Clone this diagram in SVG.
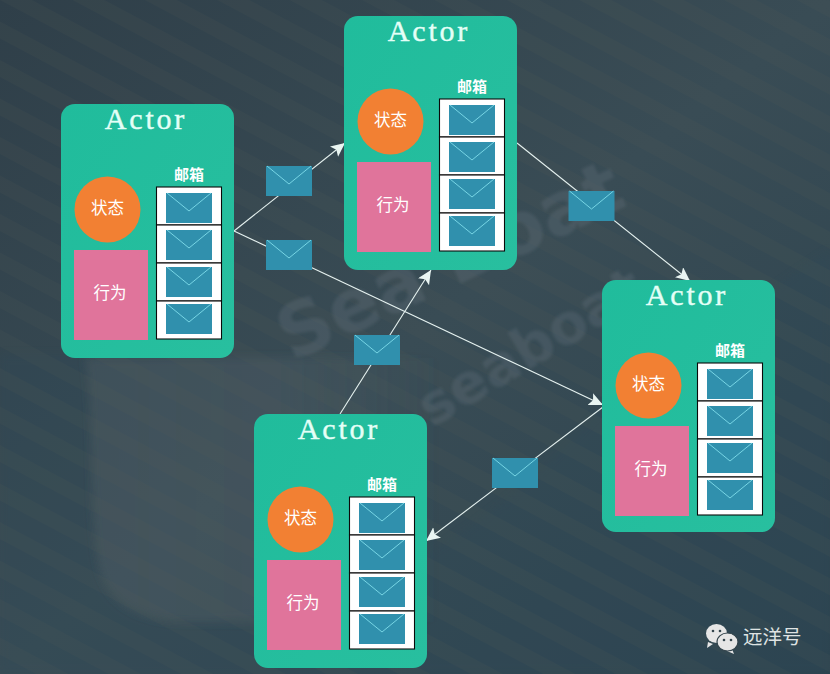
<svg xmlns="http://www.w3.org/2000/svg" width="830" height="674" viewBox="0 0 830 674">
<style>
.card{fill:url(#cardGrad)}
.state{fill:#f28033}
.behav{fill:#e0749b}
.box{fill:#fff;stroke:#0a0a0a;stroke-width:1.1}
.title{font-family:"Liberation Serif",serif;font-size:30px;letter-spacing:2.800px;fill:#e4fff7;stroke:#e4fff7;stroke-width:.4px;text-anchor:middle}
.cjk{font-family:"Noto Sans CJK SC",sans-serif;font-size:16.500px;fill:#fff;text-anchor:middle}
.mail{font-family:"Noto Sans CJK SC",sans-serif;font-size:15px;font-weight:700;fill:#fff;text-anchor:middle}
.link{fill:none;stroke:#e6f2f0;stroke-width:1.1}
.wm{font-family:"DejaVu Sans",sans-serif;font-weight:700;fill:#66767f;opacity:.3}
</style>
<defs>
<linearGradient id="bg" x1="0" y1="0" x2="1" y2="1">
<stop offset="0" stop-color="#2f3f49"/><stop offset=".5" stop-color="#394c55"/><stop offset="1" stop-color="#2c434f"/>
</linearGradient>
<linearGradient id="cardGrad" x1="0" y1="0" x2="1" y2="1">
<stop offset="0" stop-color="#20bc9c"/><stop offset="1" stop-color="#28bf9f"/>
</linearGradient>
<linearGradient id="blobFade" x1="0" y1="0" x2="1" y2="0">
<stop offset="0" stop-color="#4d5d66" stop-opacity=".45"/><stop offset=".55" stop-color="#4d5d66" stop-opacity=".4"/><stop offset="1" stop-color="#4d5d66" stop-opacity="0"/>
</linearGradient>
<filter id="soft" x="-10%" y="-10%" width="120%" height="120%"><feGaussianBlur stdDeviation="4"/></filter>
<filter id="softer" x="-10%" y="-10%" width="120%" height="120%"><feGaussianBlur stdDeviation="1.500"/></filter>
<pattern id="stripes" width="34" height="34" patternUnits="userSpaceOnUse" patternTransform="rotate(-62)">
<rect width="15" height="34" fill="#525a56" opacity=".13"/>
</pattern>
<marker id="arrow" markerUnits="userSpaceOnUse" markerWidth="16" markerHeight="14" refX="14" refY="6.500" orient="auto">
<path d="M0 0L14 6.500L0 13L3 6.500Z" fill="#e9f5f2"/>
</marker>
<g id="env">
<rect width="46" height="30" fill="#3090ad"/>
<path d="M1 0L23 18L45 0" fill="none" stroke="#7fdcea" stroke-width=".9"/>
</g>
</defs>
<rect id="background" width="830" height="674" fill="url(#bg)"/>
<path d="M0 355H85C95 400 88 520 100 570C110 610 150 622 190 622C320 622 470 560 610 400L830 250V674H0Z" fill="#2f4a58" opacity=".3" filter="url(#soft)"/>
<path d="M85 358H440V622H190C150 622 110 610 100 570C88 520 95 400 85 358Z" fill="url(#blobFade)" filter="url(#soft)"/>
<rect width="830" height="674" fill="url(#stripes)"/>
<g filter="url(#softer)">
<text class="wm" font-size="74" transform="translate(292 362) rotate(-25)">Sea Boat</text>
<text class="wm" font-size="56" transform="translate(432 428) rotate(-31)">seaboat</text>
</g>

<g id="connectors">
<path class="link" d="M234 231L345 143" marker-end="url(#arrow)"/>
<path class="link" d="M234 231L603 405" marker-end="url(#arrow)"/>
<path class="link" d="M517 143L690 281" marker-end="url(#arrow)"/>
<path class="link" d="M340 414L431 270" marker-end="url(#arrow)"/>
<path class="link" d="M603 407L426 541" marker-end="url(#arrow)"/>
<use href="#env" x="266" y="166"/>
<use href="#env" x="266" y="240"/>
<use href="#env" x="568.500" y="191"/>
<use href="#env" x="354" y="335"/>
<use href="#env" x="492" y="458"/>
</g>

<g id="actor1">
<rect class="card" x="61" y="104" width="173" height="254" rx="14"/>
<text class="title" x="146" y="129">Actor</text>
<circle class="state" cx="107.500" cy="209.500" r="33"/>
<text class="cjk" x="107.500" y="213.500">状态</text>
<rect class="behav" x="74" y="250" width="74" height="90"/>
<text class="cjk" x="110" y="299">行为</text>
<text class="mail" x="189" y="180">邮箱</text>
<rect class="box" x="156.500" y="187" width="65" height="38"/><rect class="box" x="156.500" y="225" width="65" height="38"/><rect class="box" x="156.500" y="263" width="65" height="38"/><rect class="box" x="156.500" y="301" width="65" height="38"/>
<use href="#env" x="166" y="193"/><use href="#env" x="166" y="230"/><use href="#env" x="166" y="267"/><use href="#env" x="166" y="304"/>
</g>

<g id="actor2" transform="translate(283 -88)">
<rect class="card" x="61" y="104" width="173" height="254" rx="14"/>
<text class="title" x="146" y="129">Actor</text>
<circle class="state" cx="107.500" cy="209.500" r="33"/>
<text class="cjk" x="107.500" y="213.500">状态</text>
<rect class="behav" x="74" y="250" width="74" height="90"/>
<text class="cjk" x="110" y="299">行为</text>
<text class="mail" x="189" y="180">邮箱</text>
<rect class="box" x="156.500" y="187" width="65" height="38"/><rect class="box" x="156.500" y="225" width="65" height="38"/><rect class="box" x="156.500" y="263" width="65" height="38"/><rect class="box" x="156.500" y="301" width="65" height="38"/>
<use href="#env" x="166" y="193"/><use href="#env" x="166" y="230"/><use href="#env" x="166" y="267"/><use href="#env" x="166" y="304"/>
</g>

<g id="actor3" transform="translate(541 176)">
<rect class="card" x="61" y="104" width="173" height="252" rx="14"/>
<text class="title" x="146" y="129">Actor</text>
<circle class="state" cx="107.500" cy="209.500" r="33"/>
<text class="cjk" x="107.500" y="213.500">状态</text>
<rect class="behav" x="74" y="250" width="74" height="90"/>
<text class="cjk" x="110" y="299">行为</text>
<text class="mail" x="189" y="180">邮箱</text>
<rect class="box" x="156.500" y="187" width="65" height="38"/><rect class="box" x="156.500" y="225" width="65" height="38"/><rect class="box" x="156.500" y="263" width="65" height="38"/><rect class="box" x="156.500" y="301" width="65" height="38"/>
<use href="#env" x="166" y="193"/><use href="#env" x="166" y="230"/><use href="#env" x="166" y="267"/><use href="#env" x="166" y="304"/>
</g>

<g id="actor4" transform="translate(193 310)">
<rect class="card" x="61" y="104" width="173" height="254" rx="14"/>
<text class="title" x="146" y="129">Actor</text>
<circle class="state" cx="107.500" cy="209.500" r="33"/>
<text class="cjk" x="107.500" y="213.500">状态</text>
<rect class="behav" x="74" y="250" width="74" height="90"/>
<text class="cjk" x="110" y="299">行为</text>
<text class="mail" x="189" y="180">邮箱</text>
<rect class="box" x="156.500" y="187" width="65" height="38"/><rect class="box" x="156.500" y="225" width="65" height="38"/><rect class="box" x="156.500" y="263" width="65" height="38"/><rect class="box" x="156.500" y="301" width="65" height="38"/>
<use href="#env" x="166" y="193"/><use href="#env" x="166" y="230"/><use href="#env" x="166" y="267"/><use href="#env" x="166" y="304"/>
</g>

<g id="wechat-mark">
<path d="M708 642L707 648L713 644Z" fill="#e6e6e6"/>
<ellipse cx="716.500" cy="633.500" rx="10.500" ry="9.500" fill="#e6e6e6"/>
<circle cx="713" cy="631" r="1.300" fill="#34454d"/><circle cx="720" cy="631" r="1.300" fill="#34454d"/>
<path d="M732 649L734 654L727 651Z" fill="#e6e6e6"/>
<ellipse cx="727.500" cy="642" rx="10.500" ry="9" fill="#e6e6e6" stroke="#34454d" stroke-width="1.200"/>
<circle cx="724" cy="640" r="1.300" fill="#34454d"/><circle cx="731" cy="640" r="1.300" fill="#34454d"/>
<text x="743" y="644" font-family="'Noto Sans CJK SC',sans-serif" font-size="19.500" fill="#dfe3e3">远洋号</text>
</g>
</svg>
